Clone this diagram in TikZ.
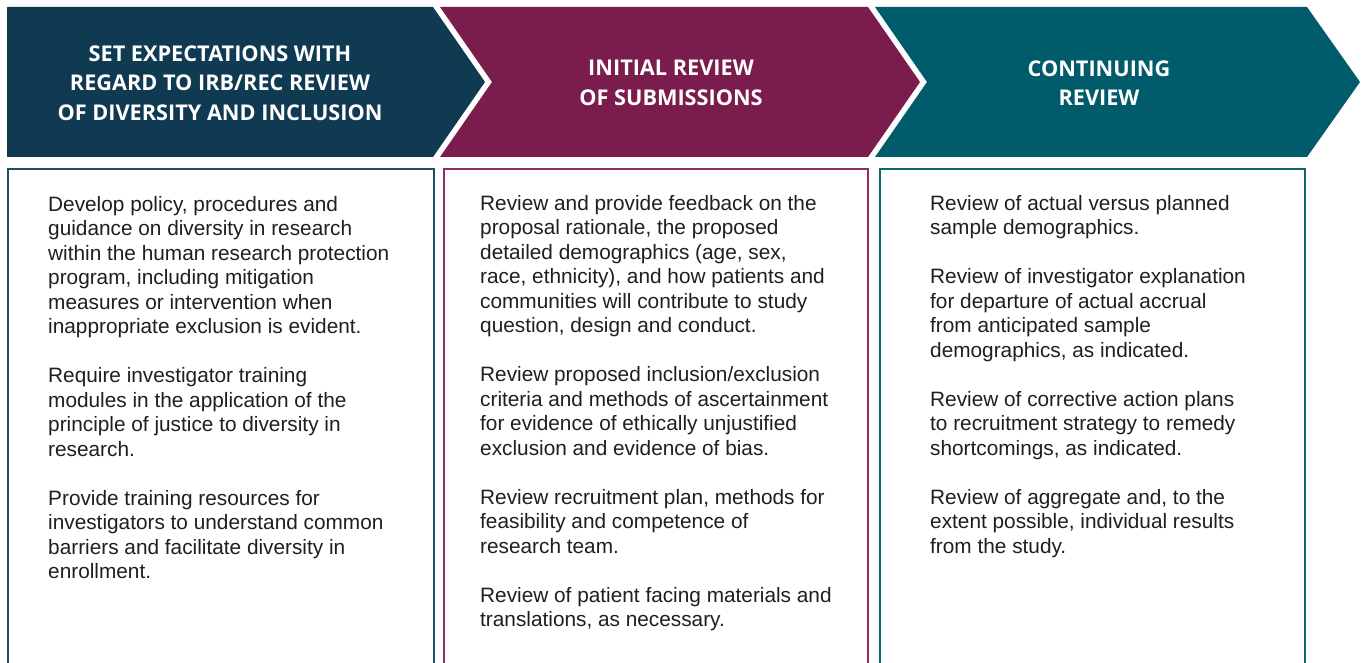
\documentclass[tikz,border=0pt]{standalone}
\usepackage{fontspec}
\setmainfont{Liberation Sans}
\newfontfamily\headfont{Open Sans}[BoldFont={* Bold}]
\definecolor{cnavy}{HTML}{103A52}
\definecolor{cplum}{HTML}{7A1C4C}
\definecolor{cteal}{HTML}{005B6B}
\definecolor{bnavy}{HTML}{1F4F68}
\definecolor{bplum}{HTML}{8E2E62}
\definecolor{bteal}{HTML}{0E6572}
\tikzset{
  headtext/.style={text=white, align=center, inner sep=0pt,
    font=\headfont\bfseries\fontsize{21.7}{29.5}\selectfont},
  bodytext/.style={text=black!88, align=left, inner sep=0pt, anchor=north west,
    font=\fontsize{20.8}{24.5}\selectfont},
  colbox/.style={line width=2pt, fill=white}
}
\begin{document}
\begin{tikzpicture}[x=1pt,y=-1pt]
\useasboundingbox (0,0) rectangle (1363,663);
\clip (0,0) rectangle (1363,663);
% chevrons
\fill[cnavy] (7,7) -- (433,7) -- (485,82) -- (433,157) -- (7,157) -- cycle;
\fill[cplum] (440,7) -- (868,7) -- (920,82) -- (868,157) -- (440,157) -- (492,82) -- cycle;
\fill[cteal] (875,7) -- (1307,7) -- (1360,82) -- (1307,157) -- (875,157) -- (927,82) -- cycle;
\node[headtext] (h1) at (220,83) {SET EXPECTATIONS WITH\\REGARD TO IRB/REC REVIEW\\OF DIVERSITY AND INCLUSION};
\node[headtext] (h2) at (671,83) {INITIAL REVIEW\\OF SUBMISSIONS};
\node[headtext] (h3) at (1099,83) {CONTINUING\\REVIEW};
% boxes
\draw[colbox, draw=bnavy] (8,169) rectangle (434,680);
\draw[colbox, draw=bplum] (444,169) rectangle (868,680);
\draw[colbox, draw=bteal] (880,169) rectangle (1305,680);
\node[bodytext] (t1) at (48,196) {Develop policy, procedures and\\guidance on diversity in research\\within the human research protection\\program, including mitigation\\measures or intervention when\\inappropriate exclusion is evident.\\[24.5pt]Require investigator training\\modules in the application of the\\principle of justice to diversity in\\research.\\[24.5pt]Provide training resources for\\investigators to understand common\\barriers and facilitate diversity in\\enrollment.};
\node[bodytext] (t2) at (480,195) {Review and provide feedback on the\\proposal rationale, the proposed\\detailed demographics (age, sex,\\race, ethnicity), and how patients and\\communities will contribute to study\\question, design and conduct.\\[24.5pt]Review proposed inclusion/exclusion\\criteria and methods of ascertainment\\for evidence of ethically unjustified\\exclusion and evidence of bias.\\[24.5pt]Review recruitment plan, methods for\\feasibility and competence of\\research team.\\[24.5pt]Review of patient facing materials and\\translations, as necessary.};
\node[bodytext] (t3) at (930,195) {Review of actual versus planned\\sample demographics.\\[24.5pt]Review of investigator explanation\\for departure of actual accrual\\from anticipated sample\\demographics, as indicated.\\[24.5pt]Review of corrective action plans\\to recruitment strategy to remedy\\shortcomings, as indicated.\\[24.5pt]Review of aggregate and, to the\\extent possible, individual results\\from the study.};
\end{tikzpicture}
\end{document}
